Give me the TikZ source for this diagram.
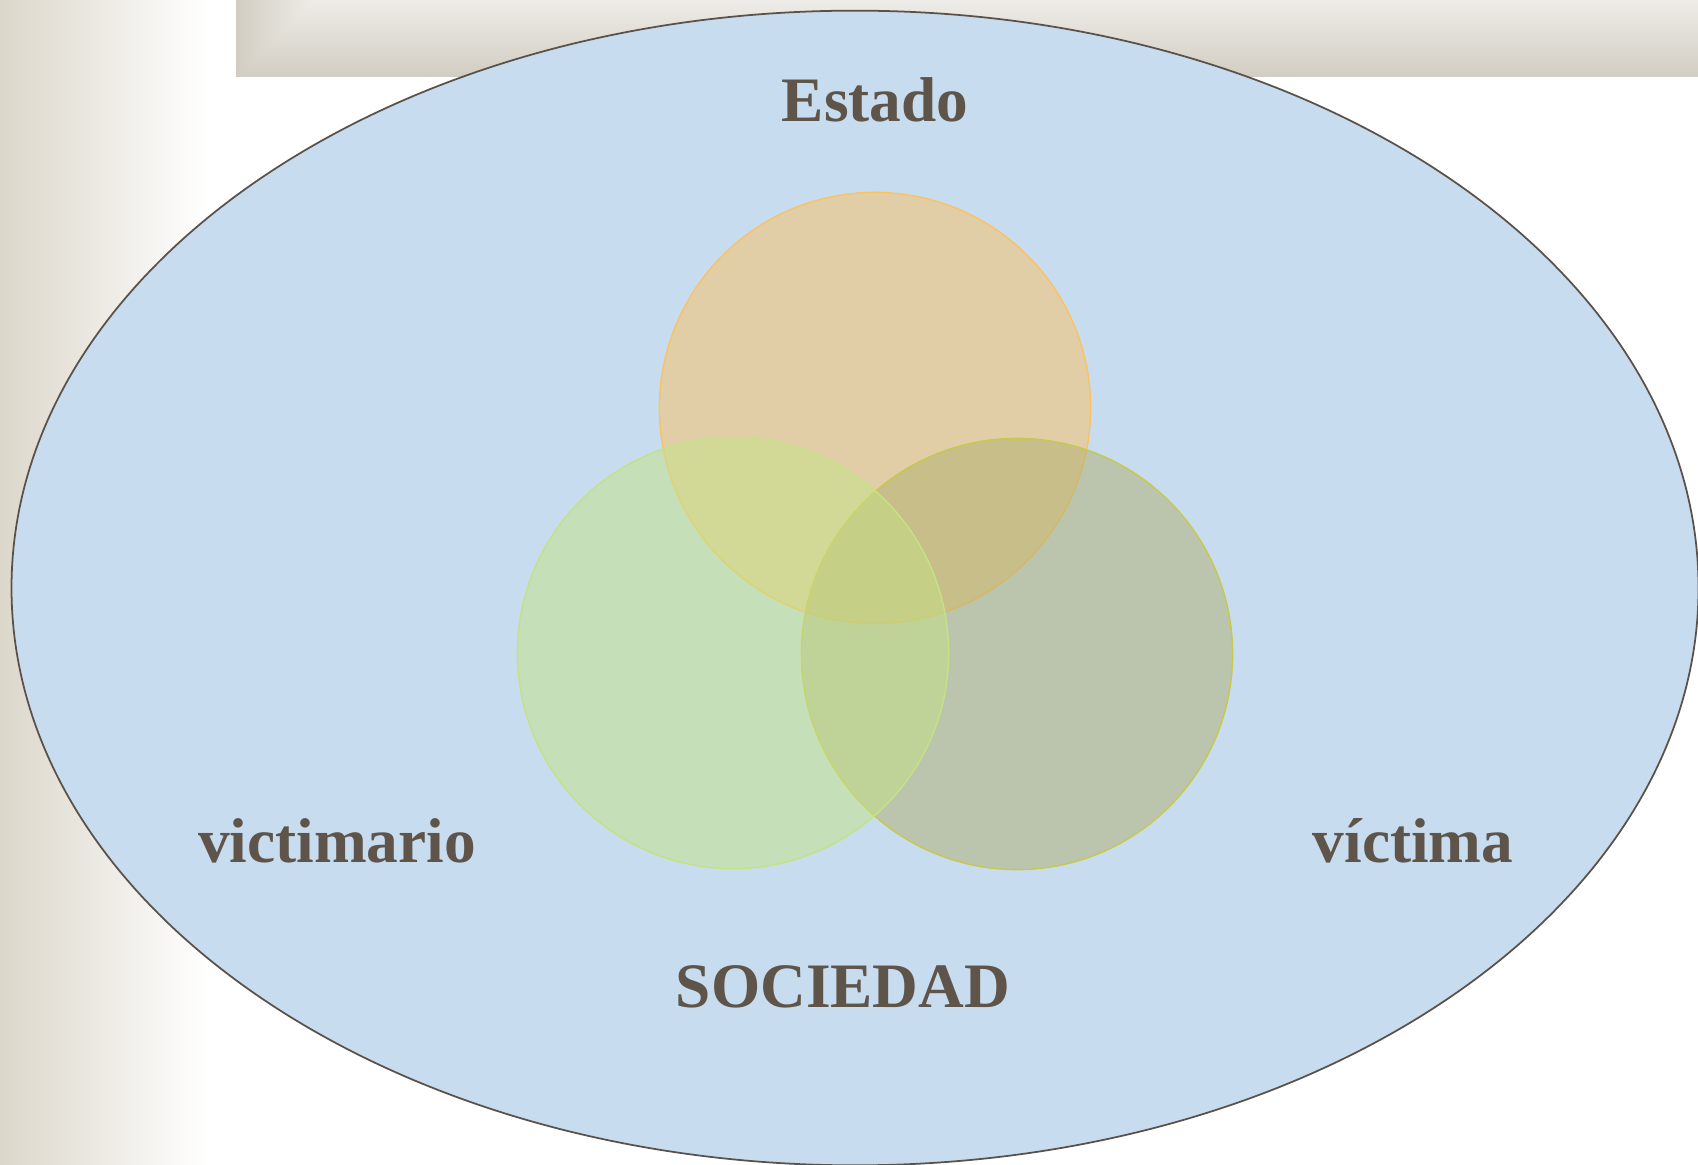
\documentclass[tikz,border=0pt]{standalone}
\usepackage{tikz}
\usepackage{xcolor}
\usepackage{fontspec}
\setmainfont{Liberation Serif}
\usetikzlibrary{shapes.geometric, positioning, backgrounds, calc}

\definecolor{skyfill}{HTML}{C8DCEF}
\definecolor{rimgray}{HTML}{5A524A}
\definecolor{labelgray}{HTML}{5E544A}
\definecolor{estadoc}{HTML}{FAC261}
\definecolor{victimarioc}{HTML}{C4E285}
\definecolor{victimac}{HTML}{B0B06D}
\definecolor{sandlight}{HTML}{EEECE8}
\definecolor{sanddark}{HTML}{D2CDC1}
\definecolor{stripc}{HTML}{DCD7CB}

\tikzstyle{set} = [circle, minimum size=4.31cm, inner sep=0pt, fill opacity=0.5, line width=0.4pt]
\tikzstyle{label} = [font=\fontsize{18}{21}\selectfont\bfseries, text=labelgray, anchor=base]

\begin{document}
\begin{tikzpicture}[x=0.01cm, y=-0.01cm]
\useasboundingbox (0,0) rectangle (1698,1165);

% background pieces
\shade[left color=stripc, right color=white] (0,0) rectangle (210,1165);
\shade[top color=sandlight, bottom color=sanddark] (236,0) rectangle (1698,77);
\shade[left color=sanddark, right color=sandlight] (236,0) -- (313,0) -- (236,77) -- cycle;

% society
\node (sociedad) [ellipse, minimum width=16.86cm, minimum height=11.54cm, inner sep=0pt, fill=skyfill, draw=rimgray, line width=0.5pt] at (855,588) {};

% the three sets
\node (estado) [set, fill=estadoc, draw=estadoc] at (875,408) {};
\node (victima) [set, fill=victimac, draw=victimac!70!yellow] at (1017,654) {};
\node (victimario) [set, fill=victimarioc, draw=victimarioc] at (733,653) {};

% labels
\node (estadotxt) [label] at (875,122) {Estado};
\node (victimariotxt) [label] at (337,863) {victimario};
\node (victimatxt) [label] at (1413,863) {víctima};
\node (sociedadtxt) [label] at (843,1007) {SOCIEDAD};

\end{tikzpicture}
\end{document}
